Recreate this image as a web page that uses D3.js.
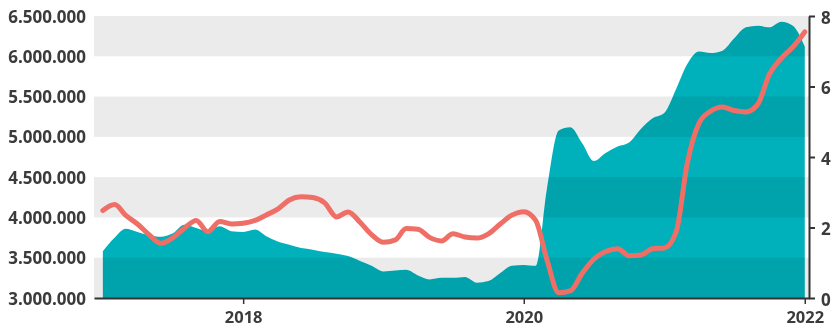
<!DOCTYPE html>
<html>
<head>
<meta charset="utf-8">
<script src="https://cdn.jsdelivr.net/npm/d3@7"></script>
<style>
  body { margin: 0; background: #fff; }
  svg text { font-family: "Open Sans", sans-serif; font-weight: 700; fill: #3b3b3b; }
</style>
</head>
<body>
<div id="grafico"></div>
<script>
// Datos mensuales, enero 2017 - enero 2022
const area = [3.58, 3.75, 3.86, 3.82, 3.78, 3.76, 3.80, 3.91, 3.87, 3.83, 3.89, 3.83,
  3.82, 3.85, 3.77, 3.70, 3.66, 3.62, 3.60, 3.57, 3.55, 3.52, 3.46, 3.40,
  3.33, 3.34, 3.35, 3.28, 3.23, 3.25, 3.25, 3.26, 3.19, 3.21, 3.31, 3.40,
  3.41, 3.40, 4.35, 5.08, 5.12, 4.92, 4.70, 4.80, 4.88, 4.93, 5.10, 5.23,
  5.30, 5.60, 5.90, 6.06, 6.04, 6.07, 6.22, 6.36, 6.38, 6.36, 6.43, 6.38, 6.12];
const linea = [2.48, 2.65, 2.35, 2.10, 1.80, 1.55, 1.70, 1.98, 2.20, 1.88, 2.17, 2.10,
  2.12, 2.20, 2.35, 2.52, 2.78, 2.87, 2.85, 2.70, 2.30, 2.44, 2.15, 1.80,
  1.58, 1.65, 1.97, 1.95, 1.72, 1.62, 1.82, 1.73, 1.70, 1.82, 2.10, 2.35,
  2.45, 2.20, 1.10, 0.15, 0.20, 0.70, 1.10, 1.32, 1.40, 1.20, 1.22, 1.40,
  1.42, 1.90, 3.80, 4.96, 5.30, 5.42, 5.32, 5.28, 5.50, 6.35, 6.80, 7.12, 7.55];
const ticksIzq = [3000000, 3500000, 4000000, 4500000, 5000000, 5500000, 6000000, 6500000];
const ticksDer = [0, 2, 4, 6, 8];
const ticksAnios = [2018, 2020, 2022];

const fechas = area.map((d, i) => new Date(2017, i, 1));

const ancho = 836, alto = 327;
const m = { izq: 94, der: 809, sup: 16, inf: 298 };

const svg = d3.select("#grafico").append("svg")
  .attr("width", ancho).attr("height", alto);

const x = d3.scaleTime()
  .domain([new Date(2016, 11, 9), new Date(2022, 0, 12)])
  .range([m.izq, m.der]);
const yIzq = d3.scaleLinear().domain([3000000, 6500000]).range([m.inf, m.sup]);
const yDer = d3.scaleLinear().domain([0, 8]).range([m.inf, m.sup]);

// Área
const generadorArea = d3.area()
  .x((d, i) => x(fechas[i]))
  .y0(yIzq(3000000))
  .y1(d => yIzq(d * 1000000))
  .curve(d3.curveMonotoneX);

svg.append("path")
  .datum(area)
  .attr("d", generadorArea)
  .attr("fill", "#00b0bb");

// Franjas grises (multiplican sobre el área)
const franjas = [[3000000, 3500000], [4000000, 4500000], [5000000, 5500000], [6000000, 6500000]];
svg.selectAll(".franja").data(franjas).enter().append("rect")
  .attr("x", m.izq)
  .attr("width", m.der - m.izq)
  .attr("y", d => yIzq(d[1]))
  .attr("height", d => yIzq(d[0]) - yIzq(d[1]))
  .attr("fill", "#ebebeb")
  .style("mix-blend-mode", "multiply");

// Línea
const generadorLinea = d3.line()
  .x((d, i) => x(fechas[i]))
  .y(d => yDer(d))
  .curve(d3.curveMonotoneX);

svg.append("path")
  .datum(linea)
  .attr("d", generadorLinea)
  .attr("fill", "none")
  .attr("stroke", "#ef6f66")
  .attr("stroke-width", 5)
  .attr("stroke-linecap", "round")
  .attr("stroke-linejoin", "round");

// Eje izquierdo (solo etiquetas)
const formato = v => d3.format(",")(v).replace(/,/g, ".");
svg.selectAll(".etIzq").data(ticksIzq).enter().append("text")
  .attr("x", 86)
  .attr("y", d => yIzq(d) + 6.5)
  .attr("text-anchor", "end")
  .attr("font-size", 17)
  .text(formato);

// Eje inferior
const ejeX = d3.axisBottom(x)
  .tickValues(ticksAnios.map(a => new Date(a, 0, 1)))
  .tickFormat(d3.timeFormat("%Y"))
  .tickSize(6)
  .tickSizeOuter(0);
const gX = svg.append("g").attr("transform", `translate(0,${m.inf})`).call(ejeX);
gX.select(".domain").attr("stroke", "#333").attr("stroke-width", 2);
gX.selectAll(".tick line").attr("stroke", "#333").attr("stroke-width", 1.5);
gX.selectAll(".tick text").attr("font-size", 16.5).attr("dy", null).attr("y", 24.5).attr("fill", "#3b3b3b")
  .style("font-family", "'Open Sans', sans-serif").style("font-weight", 700);

// Eje derecho
const ejeDer = d3.axisRight(yDer)
  .tickValues(ticksDer)
  .tickSize(6)
  .tickSizeOuter(0);
const gD = svg.append("g").attr("transform", `translate(${m.der},0)`).call(ejeDer);
gD.select(".domain").attr("stroke", "#333").attr("stroke-width", 2);
gD.selectAll(".tick line").attr("stroke", "#333").attr("stroke-width", 2);
gD.selectAll(".tick text").attr("font-size", 17).attr("x", 12).attr("dy", null).attr("y", 7)
  .attr("fill", "#3b3b3b")
  .style("font-family", "'Open Sans', sans-serif").style("font-weight", 700);
</script>
</body>
</html>
